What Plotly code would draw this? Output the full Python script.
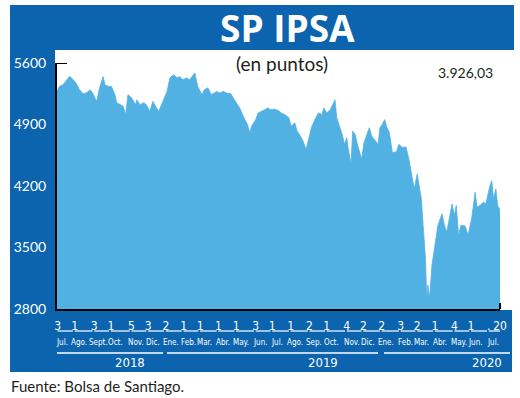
import plotly.graph_objects as go
from datetime import date, timedelta

# ---------------- data ----------------
dates = [
    "2018-07-02","2018-07-06","2018-07-12","2018-07-18","2018-07-23","2018-07-25","2018-07-30",
    "2018-08-03","2018-08-09","2018-08-15","2018-08-21","2018-08-27","2018-08-31",
    "2018-09-07","2018-09-12","2018-09-18","2018-09-21","2018-09-27",
    "2018-10-02","2018-10-08","2018-10-11","2018-10-16","2018-10-22","2018-10-26","2018-10-30",
    "2018-11-05","2018-11-12","2018-11-14","2018-11-19","2018-11-26","2018-11-30",
    "2018-12-06","2018-12-11","2018-12-17","2018-12-21","2018-12-28",
    "2019-01-04","2019-01-09","2019-01-15","2019-01-21","2019-01-25","2019-01-31",
    "2019-02-06","2019-02-11","2019-02-20","2019-02-25",
    "2019-03-04","2019-03-08","2019-03-14","2019-03-20","2019-03-26","2019-03-29",
    "2019-04-03","2019-04-09","2019-04-15","2019-04-22","2019-04-26",
    "2019-05-02","2019-05-07","2019-05-13","2019-05-20","2019-05-24","2019-05-27",
    "2019-06-03","2019-06-07","2019-06-13","2019-06-18","2019-06-24","2019-06-28",
    "2019-07-05","2019-07-11","2019-07-16","2019-07-22","2019-07-29",
    "2019-08-02","2019-08-08","2019-08-12","2019-08-16","2019-08-22","2019-08-27","2019-08-30",
    "2019-09-05","2019-09-11","2019-09-17","2019-09-23","2019-09-26",
    "2019-10-01","2019-10-07","2019-10-11","2019-10-15","2019-10-18","2019-10-23","2019-10-28","2019-10-31",
    "2019-11-04","2019-11-06","2019-11-11","2019-11-14","2019-11-18","2019-11-22","2019-11-29",
    "2019-12-03","2019-12-06","2019-12-12","2019-12-16","2019-12-20","2019-12-27","2019-12-30",
    "2020-01-03","2020-01-07","2020-01-10","2020-01-15","2020-01-20","2020-01-27","2020-01-31",
    "2020-02-06","2020-02-12","2020-02-17","2020-02-20","2020-02-24","2020-02-26",
    "2020-03-02","2020-03-04","2020-03-09","2020-03-12","2020-03-16","2020-03-17","2020-03-18",
    "2020-03-20","2020-03-23","2020-03-27",
    "2020-04-02","2020-04-06","2020-04-13","2020-04-17","2020-04-21","2020-04-24","2020-04-30",
    "2020-05-04","2020-05-07","2020-05-11","2020-05-15","2020-05-22","2020-05-27",
    "2020-06-02","2020-06-08","2020-06-11","2020-06-16","2020-06-22","2020-06-26",
    "2020-07-03","2020-07-06","2020-07-09","2020-07-13","2020-07-16","2020-07-20",
]
values = [
    5276, 5332, 5352, 5408, 5445, 5440, 5408,
    5374, 5295, 5250, 5261, 5295, 5261,
    5163, 5318, 5445, 5352, 5332,
    5332, 5239, 5148, 5126, 5107, 5013, 5239,
    5205, 5126, 5182, 5126, 5148, 5126,
    5050, 5163, 5092, 5050, 5163,
    5276, 5431, 5465, 5431, 5445, 5408,
    5431, 5408, 5487, 5332,
    5239, 5295, 5318, 5239, 5258, 5276,
    5258, 5276, 5258, 5250, 5201,
    5145, 5089, 4994, 4900, 4806, 4881,
    4956, 5032, 5050, 5069, 5089, 5069,
    5075, 5060, 5032, 5013, 4976,
    4881, 4919, 4824, 4787, 4711, 4618, 4693,
    4863, 4956, 5032, 5013, 5089,
    5032, 5069, 5126, 5182, 4976, 4881, 4768, 4674,
    4750, 4637, 4448, 4824, 4787, 4674, 4505,
    4693, 4750, 4863, 4768, 4731, 4674, 4863,
    4900, 4956, 4881, 4806, 4581, 4590, 4674,
    4637, 4645, 4505, 4392, 4260, 4166,
    4336, 4260, 4053, 3752, 3376, 3150, 2905,
    3074, 2924, 3300,
    3564, 3752, 3884, 3752, 3677, 3790, 3997,
    3865, 3978, 3639, 3752, 3745, 3639,
    3827, 4129, 3960, 3978, 4016, 3997,
    4203, 4260, 4053, 4166, 3978, 3926.03,
]

# first trading day of each month (top row) + last date
tick_dates = [
    "2018-07-03","2018-08-01","2018-09-03","2018-10-01","2018-11-05","2018-12-03",
    "2019-01-02","2019-02-01","2019-03-01","2019-04-01","2019-05-01","2019-06-03",
    "2019-07-01","2019-08-01","2019-09-02","2019-10-01","2019-11-04","2019-12-02",
    "2020-01-02","2020-02-03","2020-03-02","2020-04-01","2020-05-04","2020-06-01",
    "2020-07-01","2020-07-20",
]
tick_text = ["3","1","3","1","5","3","2","1","1","1","1","3",
             "1","1","2","1","4","2","2","3","2","1","4","1",".","20"]
month_labels = ["Jul.","Ago.","Sept.","Oct.","Nov.","Dic.",
                "Ene.","Feb.","Mar.","Abr.","May.","Jun.",
                "Jul.","Ago.","Sep.","Oct.","Nov.","Dic.",
                "Ene.","Feb.","Mar.","Abr.","May.","Jun.","Jul."]
year_labels = ["2018", "2019", "2020"]
y_ticks = [2800, 3500, 4200, 4900, 5600]
last_value_text = "3.926,03"

# ---------------- layout constants ----------------
W, H = 520, 398
L, R, T, B = 57, 20, 63, 89
PW, PH = W - L - R, H - T - B
X_START, X_END = "2018-07-02", "2020-07-20"

def px(x):
    return (x - L) / PW

def py(y):
    return (H - B - y) / PH

DARK = "#0b64ad"
FILL = "#52b1e3"
TEXT = "#231f20"
NARROW = "Liberation Sans Narrow, DejaVu Sans Condensed, Arial Narrow, sans-serif"

fig = go.Figure()
fig.add_trace(go.Scatter(
    x=dates, y=values, mode="lines", fill="tozeroy",
    fillcolor=FILL, line=dict(color=FILL, width=0.8), hoverinfo="skip",
))

shapes = []
# blue frame pieces
shapes.append(dict(type="rect", xref="paper", yref="paper", x0=px(10), x1=px(55),
                   y0=py(372), y1=py(5), fillcolor=DARK, line_width=0, layer="below"))
shapes.append(dict(type="rect", xref="paper", yref="paper", x0=px(10), x1=px(514),
                   y0=py(50), y1=py(5), fillcolor=DARK, line_width=0, layer="below"))
shapes.append(dict(type="rect", xref="paper", yref="paper", x0=px(10), x1=px(512),
                   y0=py(372), y1=py(H - B + 1), fillcolor=DARK, line_width=0, layer="below"))
# axis bracket ticks
shapes.append(dict(type="line", xref="paper", yref="y", x0=0, x1=px(67), y0=5600, y1=5600,
                   line=dict(color="black", width=2)))
shapes.append(dict(type="line", xref="paper", yref="paper", x0=1, x1=1, y0=0, y1=py(H - B - 6),
                   line=dict(color="black", width=2)))

# underline segments under day numbers
ul_y = py(331)
tds = [date.fromisoformat(d) for d in tick_dates]
for i in range(len(month_labels)):
    start = tds[i]
    end = tds[i + 1] - timedelta(days=3) if i + 1 < len(month_labels) else tds[-1]
    shapes.append(dict(type="line", xref="x", yref="paper",
                       x0=str(start), x1=str(end), y0=ul_y, y1=ul_y,
                       line=dict(color="white", width=1.2)))
# year lines
yl_y = py(353)
for a, b in [(57, 163), (167, 378), (384, 510)]:
    shapes.append(dict(type="line", xref="paper", yref="paper", x0=px(a), x1=px(b),
                       y0=yl_y, y1=yl_y, line=dict(color="white", width=1.5)))

annotations = []
# month labels
for i, lab in enumerate(month_labels):
    pos = tds[i] + timedelta(days=8)
    annotations.append(dict(x=str(pos), y=py(342), xref="x", yref="paper", text=lab,
                            showarrow=False, xanchor="center", yanchor="middle",
                            font=dict(family=NARROW, size=8, color="white")))
# year labels
for lab, xx in zip(year_labels, ["2018-11-02", "2019-09-24", "2020-06-28"]):
    annotations.append(dict(x=xx, y=py(362), xref="x", yref="paper", text=lab,
                            showarrow=False, xanchor="center", yanchor="middle",
                            font=dict(family=NARROW, size=13, color="white")))
# title & texts
annotations.append(dict(x=px(287), y=py(27), xref="paper", yref="paper", text="<b>SP IPSA</b>",
                        showarrow=False, xanchor="center", yanchor="middle",
                        font=dict(family="Open Sans, sans-serif", size=37, color="white")))
annotations.append(dict(x=px(282), y=py(63), xref="paper", yref="paper", text="(en puntos)",
                        showarrow=False, xanchor="center", yanchor="middle",
                        font=dict(family="Lato, Open Sans, sans-serif", size=19, color=TEXT)))
annotations.append(dict(x=px(495), y=py(72), xref="paper", yref="paper", text=last_value_text,
                        showarrow=False, xanchor="right", yanchor="middle",
                        font=dict(family="Lato, Open Sans, sans-serif", size=14, color=TEXT)))
annotations.append(dict(x=px(9), y=py(386), xref="paper", yref="paper",
                        text="Fuente: Bolsa de Santiago.",
                        showarrow=False, xanchor="left", yanchor="middle",
                        font=dict(family="Lato, Open Sans, sans-serif", size=15, color=TEXT)))

fig.update_layout(
    width=W, height=H,
    margin=dict(l=L, r=R, t=T, b=B, pad=0),
    paper_bgcolor="white", plot_bgcolor="white",
    showlegend=False,
    shapes=shapes, annotations=annotations,
    xaxis=dict(type="date", range=[X_START, X_END], showgrid=False, zeroline=False,
               showline=True, linecolor="black", linewidth=2,
               tickmode="array", tickvals=tick_dates, ticktext=tick_text, ticks="",
               tickangle=0, ticklabelstandoff=5,
               tickfont=dict(family=NARROW, size=12, color="white")),
    yaxis=dict(range=[2800, 5600], showgrid=False, zeroline=False,
               showline=True, linecolor="black", linewidth=2,
               tickmode="array", tickvals=y_ticks, ticks="", ticklabelstandoff=6,
               tickfont=dict(family="Lato, Open Sans, sans-serif", size=14, color="white")),
)

fig.write_html("out.html", post_script="document.body.style.margin='0';",
               config={"displayModeBar": False})
